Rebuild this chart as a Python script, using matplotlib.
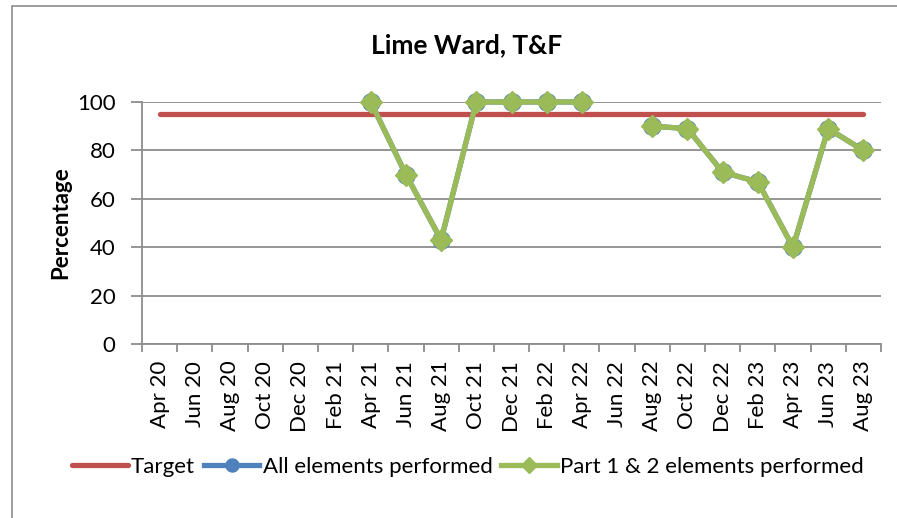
import numpy as np
import matplotlib
matplotlib.use("Agg")
import matplotlib.pyplot as plt
from matplotlib.patches import Rectangle

plt.rcParams['font.family'] = ['Lato', 'DejaVu Sans']

months = ["Apr 20", "Jun 20", "Aug 20", "Oct 20", "Dec 20", "Feb 21", "Apr 21",
          "Jun 21", "Aug 21", "Oct 21", "Dec 21", "Feb 22", "Apr 22", "Jun 22",
          "Aug 22", "Oct 22", "Dec 22", "Feb 23", "Apr 23", "Jun 23", "Aug 23"]
target = [95] * len(months)
nan = np.nan
all_elements = [nan, nan, nan, nan, nan, nan, 100, 70, 43, 100, 100, 100, 100, nan,
                90, 89, 71, 67, 40, 89, 80]
part_1_2 = [nan, nan, nan, nan, nan, nan, 100, 70, 43, 100, 100, 100, 100, nan,
            90, 89, 71, 67, 40, 89, 80]

RED = "#C0504D"
BLUE = "#4F81BD"
GREEN = "#9BBB59"
GREY = "#8c8c8c"

W, H = 897, 518
fig = plt.figure(figsize=(W / 100, H / 100), dpi=100)
fig.patch.set_facecolor("white")
fig.add_artist(Rectangle((12 / W, -0.1), 1.2, 1 - 6 / H + 0.1, transform=fig.transFigure,
                         fill=False, edgecolor=GREY, linewidth=1.2))

ax = fig.add_axes([142 / W, 1 - 344 / H, (881 - 142) / W, (344 - 102) / H])
x = np.arange(len(months))

ax.plot(x, target, color=RED, lw=3.8, solid_capstyle="round", label="Target",
        zorder=3, clip_on=False)
ax.plot(x, all_elements, color=BLUE, lw=3.8, marker="o", ms=12.5, mfc=BLUE, mec=BLUE,
        label="All elements performed", zorder=4, clip_on=False)
ax.plot(x, part_1_2, color=GREEN, lw=3.8, marker="D", ms=11, mfc=GREEN, mec=GREEN,
        label="Part 1 & 2 elements performed", zorder=5, clip_on=False)

ax.set_xlim(-0.5, len(months) - 0.5)
ax.set_ylim(0, 100)
ax.set_yticks([0, 20, 40, 60, 80, 100])
ax.yaxis.grid(True, color=GREY, lw=1.3)
ax.set_axisbelow(True)

ax.set_xticks(np.arange(len(months) + 1) - 0.5)
ax.set_xticklabels([])
ax.set_xticks(x, minor=True)
ax.set_xticklabels(months, minor=True, rotation=90, fontsize=16)
ax.tick_params(axis="x", which="minor", length=0, pad=12)
ax.tick_params(axis="x", which="major", length=6, color=GREY, width=1.3)
ax.tick_params(axis="y", length=8, color=GREY, width=1.3, labelsize=16, pad=11)

for s in ["top", "right"]:
    ax.spines[s].set_visible(False)
for s in ["left", "bottom"]:
    ax.spines[s].set_color(GREY)
    ax.spines[s].set_linewidth(1.3)

ax.set_ylabel("Percentage", fontsize=16, fontweight="bold", labelpad=4)
fig.text(467 / W, 1 - 45 / H, "Lime Ward, T&F", ha="center", va="center",
         fontsize=19, fontweight="bold")

fig.legend(loc="center", bbox_to_anchor=(468 / W, 1 - 467 / H), ncol=3, frameon=False,
           fontsize=16, handlelength=2.5, handletextpad=0.15, columnspacing=0.4,
           markerscale=0.75)

fig.savefig("out.png", dpi=100, facecolor="white")
